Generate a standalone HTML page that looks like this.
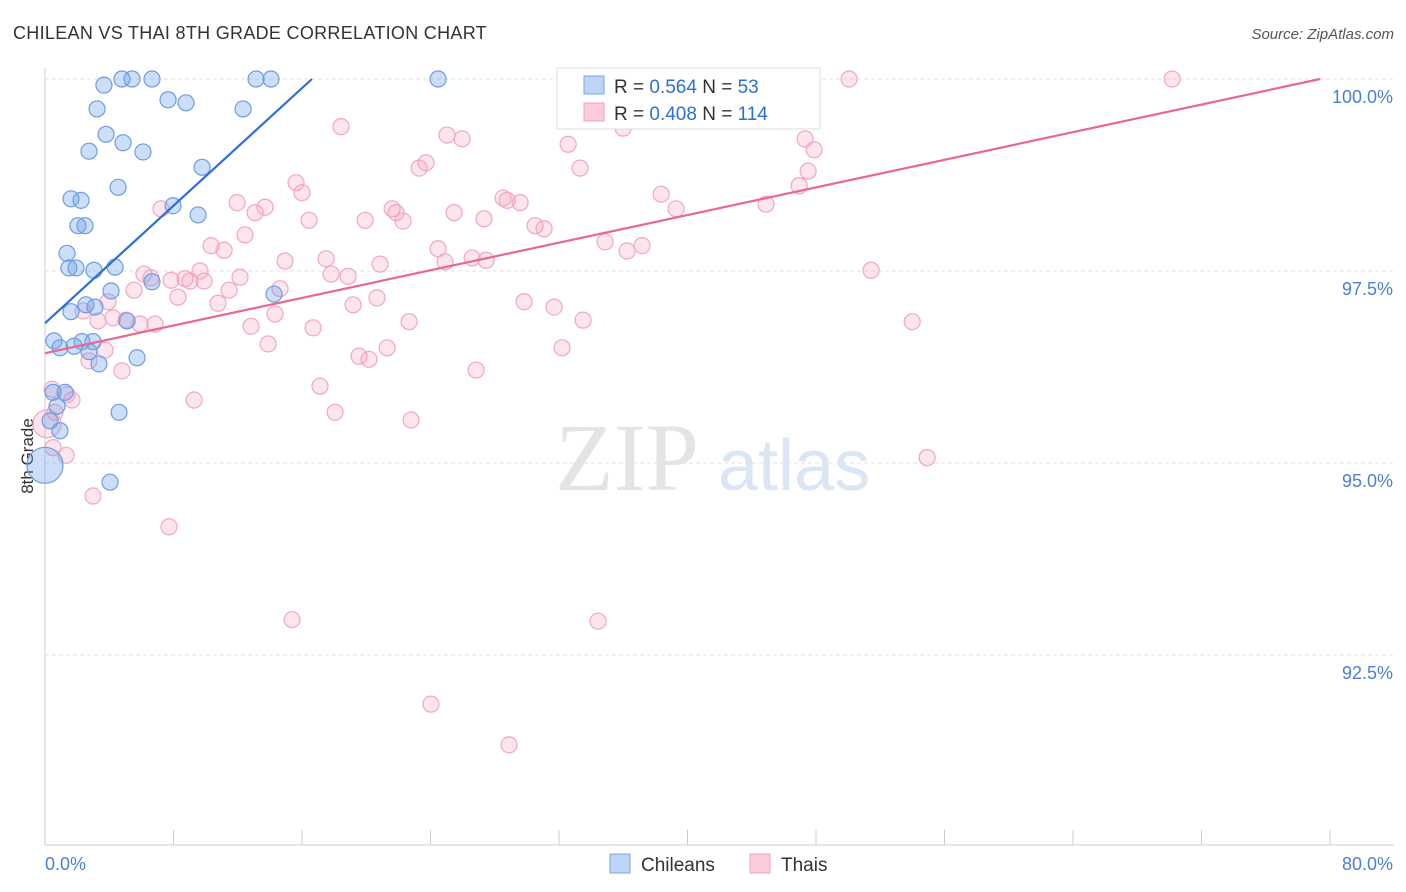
<!DOCTYPE html>
<html><head><meta charset="utf-8"><style>
body{margin:0;background:#fff;font-family:"Liberation Sans",sans-serif;}
</style></head><body>
<svg id="chart" width="1406" height="892" xmlns="http://www.w3.org/2000/svg" style="position:absolute;left:0;top:0">
<text x="13" y="39" font-size="18" fill="#333" letter-spacing="0.3">CHILEAN VS THAI 8TH GRADE CORRELATION CHART</text>
<text x="1394" y="39" font-size="15" fill="#555" text-anchor="end" font-style="italic">Source: ZipAtlas.com</text>
<text x="555" y="490" font-size="96" fill="#e4e4e4" font-family="Liberation Serif">ZIP</text>
<text x="718" y="490" font-size="72" fill="#dbe6f5">atlas</text>
<text transform="translate(33,456) rotate(-90)" font-size="17" fill="#333" text-anchor="middle">8th Grade</text>
<g id="grid"></g><g id="axes"></g><g id="pts"></g><g id="lines"></g>
<g>
<rect x="557" y="68" width="263" height="61" fill="#fff" stroke="#ddd"/>
<rect x="584" y="76" width="20" height="18" fill="#bcd4f5" stroke="#7aa6e6"/>
<rect x="584" y="103" width="20" height="18" fill="#fbcbd9" stroke="#f0a0bc"/>
<text x="614" y="93" font-size="19" fill="#333">R = <tspan fill="#2d6fd6">0.564</tspan>   N = <tspan fill="#2d6fd6"> 53</tspan></text>
<text x="614" y="120" font-size="19" fill="#333">R = <tspan fill="#2d6fd6">0.408</tspan>   N = <tspan fill="#2d6fd6">114</tspan></text>
</g>
<g>
<rect x="610" y="854" width="20" height="19" fill="#bcd4f5" stroke="#7aa6e6"/>
<text x="641" y="871" font-size="19" fill="#333">Chileans</text>
<rect x="750" y="854" width="20" height="19" fill="#fbcbd9" stroke="#f0a0bc"/>
<text x="781" y="871" font-size="19" fill="#333">Thais</text>
</g>
</svg>
<script>
const yTicks=[100,97.5,95,92.5];
const yTickLabels=["100.0%","97.5%","95.0%","92.5%"];
const xTicks=[0,8,16,24,32,40,48,56,64,72,80];
const blueX=[3.67,4.79,5.42,6.66,13.14,14.07,24.47,7.66,8.78,3.24,12.33,3.80,4.86,2.74,6.10,9.78,4.55,1.62,2.24,7.97,9.53,2.05,2.49,1.37,1.49,1.93,3.05,4.36,6.66,4.11,14.26,2.55,3.11,1.62,5.11,0.56,2.30,2.99,0.93,1.81,2.74,5.73,3.36,0.50,1.25,0.75,0.93,0.31,4.61,4.05,0];
const blueY=[99.92,100,100,100,100,100,100,99.73,99.69,99.61,99.61,99.28,99.17,99.06,99.05,98.85,98.59,98.44,98.42,98.35,98.23,98.09,98.09,97.73,97.54,97.54,97.51,97.55,97.36,97.24,97.20,97.06,97.03,96.97,96.85,96.59,96.58,96.58,96.50,96.52,96.45,96.37,96.29,95.92,95.92,95.74,95.42,95.55,95.66,94.75,94.97];
const blueR=[8,8,8,8,8,8,8,8,8,8,8,8,8,8,8,8,8,8,8,8,8,8,8,8,8,8,8,8,8,8,8,8,8,8,8,8,8,8,8,8,8,8,8,8,8,8,8,8,8,8,18];
const pinkX=[32.88,39.29,41.66,50.06,70.17,18.43,25.03,25.97,35.99,32.57,47.32,47.88,23.72,23.29,33.31,15.63,16.00,38.36,28.52,28.77,29.58,47.51,46.95,11.96,13.70,7.22,13.08,21.61,21.86,22.29,25.47,27.33,16.44,19.93,39.29,44.89,30.51,31.07,12.45,10.34,11.15,24.47,34.87,37.17,36.24,14.94,17.50,20.86,24.91,26.59,27.46,51.43,6.16,6.60,9.65,8.72,9.03,7.85,9.90,12.14,17.81,18.87,11.46,14.63,5.54,8.28,10.77,3.92,2.37,4.23,3.30,5.04,5.92,6.85,12.83,14.32,16.69,19.18,20.67,29.83,31.69,22.67,33.50,53.99,13.89,21.30,32.19,3.74,2.74,4.79,19.55,20.17,26.84,17.12,1.37,1.68,0.44,0.62,9.28,18.06,22.79,0.50,1.31,54.92,2.99,7.72,15.38,34.43,24.03,28.89,0.12];
const pinkY=[100,100,100,100,100,99.38,99.27,99.22,99.36,99.15,99.22,99.08,98.91,98.84,98.84,98.65,98.52,98.50,98.45,98.42,98.39,98.80,98.61,98.39,98.33,98.31,98.26,98.31,98.26,98.15,98.26,98.18,98.16,98.16,98.31,98.37,98.09,98.05,97.97,97.83,97.77,97.79,97.88,97.83,97.76,97.63,97.66,97.59,97.62,97.67,97.64,97.51,97.46,97.41,97.50,97.40,97.37,97.38,97.37,97.42,97.46,97.43,97.25,97.27,97.25,97.16,97.08,97.10,96.98,96.89,96.85,96.86,96.81,96.81,96.78,96.94,96.76,97.06,97.15,97.10,97.03,96.84,96.86,96.84,96.55,96.50,96.50,96.47,96.33,96.20,96.39,96.35,96.21,96.00,95.89,95.82,95.96,95.66,95.82,95.66,95.56,95.20,95.10,95.07,94.57,94.17,92.96,92.94,91.86,91.33,95.51];
const blueLine=[[0,96.82],[16.62,100]];
const pinkLine=[[0,96.43],[79.39,100]];
const NS="http://www.w3.org/2000/svg";
const X0=45,X1=1330;
function xs(v){return X0+v*(X1-X0)/80;}
function ys(v){return 79+(100-v)*76.8;}
function mk(tag,attrs,parent){const e=document.createElementNS(NS,tag);for(const k in attrs)e.setAttribute(k,attrs[k]);document.getElementById(parent).appendChild(e);return e;}
yTicks.forEach((t,i)=>{
 const l=mk('line',{x1:X0,x2:1394,y1:ys(t),y2:ys(t),stroke:'#e2e2e2','stroke-dasharray':'4,3'},'grid');
 
 
 const tx=mk('text',{x:1393,y:ys(t)+24,'font-size':18,fill:'#4a7fd8','text-anchor':'end'},'grid');
 tx.textContent=yTickLabels[i];
 
 
});
const ax=mk('line',{x1:X0,x2:X0,y1:68,y2:845,stroke:'#ccc'},'axes');


const bx=mk('line',{x1:X0,x2:1394,y1:845,y2:845,stroke:'#ccc'},'axes');


xTicks.forEach(t=>{
 const l=mk('line',{x1:xs(t),x2:xs(t),y1:830,y2:845,stroke:'#ccc'},'axes');
 
 
});
const xl0=mk('text',{x:45,y:870,'font-size':18,fill:'#4a7fd8'},'axes');xl0.textContent='0.0%';


const xl1=mk('text',{x:1393,y:870,'font-size':18,fill:'#4a7fd8','text-anchor':'end'},'axes');xl1.textContent='80.0%';


pinkX.forEach((v,i)=>{
 const c=mk('circle',{cx:xs(v),cy:ys(pinkY[i]),r:i===pinkX.length-1?14:8,fill:'rgba(244,160,190,0.28)',stroke:'#f2a6c0','stroke-width':1.2},'pts');
 
 
});
blueX.forEach((v,i)=>{
 const c=mk('circle',{cx:xs(v),cy:ys(blueY[i]),r:blueR[i],fill:'rgba(110,160,235,0.35)',stroke:'#6d9de2','stroke-width':1.2},'pts');
 
 
});
const bl=mk('line',{x1:xs(blueLine[0][0]),y1:ys(blueLine[0][1]),x2:xs(blueLine[1][0]),y2:ys(blueLine[1][1]),stroke:'#2d6fd6','stroke-width':2.2},'lines');


const pl=mk('line',{x1:xs(pinkLine[0][0]),y1:ys(pinkLine[0][1]),x2:xs(pinkLine[1][0]),y2:ys(pinkLine[1][1]),stroke:'#e8688f','stroke-width':2.2},'lines');


</script>
</body></html>
